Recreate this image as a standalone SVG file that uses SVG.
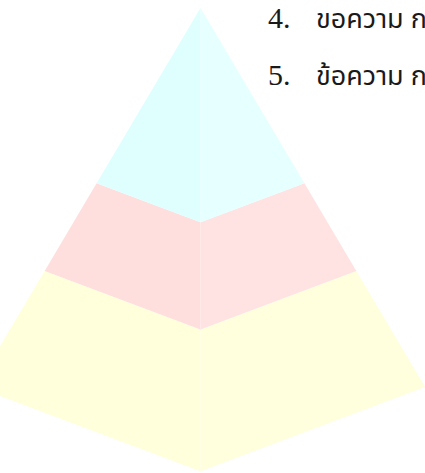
<svg xmlns="http://www.w3.org/2000/svg" width="425" height="473" viewBox="0 0 425 473">
<style>
.c1l{fill:#DFFFFF}.c1r{fill:#E6FFFF}
.c2l{fill:#FFDEDE}.c2r{fill:#FFE3E3}
.c3l{fill:#FFFFDC}.c3r{fill:#FFFFDE}
.face{stroke:none}
.num{font-family:"Liberation Serif","Times New Roman",serif;font-size:30px;fill:#1a1a1a}
.txt{font-family:"Noto Sans Thai","Tahoma","DejaVu Sans",sans-serif;font-size:27px;fill:#1a1a1a}
</style>
<rect width="425" height="473" fill="#FFFFFF"/>
<g id="level-bottom">
<polygon class="face c3l" points="44.7,271 -24.1,387 200.5,471.2 200.5,329.4"/>
<polygon class="face c3r" points="356.3,271 425.1,387 200.5,471.2 200.5,329.4"/>
</g>
<g id="level-middle">
<polygon class="face c2l" points="96.6,183.3 44.7,271 200.5,329.4 200.5,222.3"/>
<polygon class="face c2r" points="304.4,183.3 356.3,271 200.5,329.4 200.5,222.3"/>
</g>
<g id="level-top">
<polygon class="face c1l" points="200.5,8 96.6,183.3 200.5,222.3"/>
<polygon class="face c1r" points="200.5,8 304.4,183.3 200.5,222.3"/>
</g>
<g id="connectors"></g>
<g id="item-4">
<text class="num" x="268" y="28">4.</text>
<text class="txt" x="316" y="28">ขอความ ก</text>
</g>
<g id="item-5">
<text class="num" x="268" y="85">5.</text>
<text class="txt" x="316" y="85">ข้อความ ก</text>
</g>
</svg>
